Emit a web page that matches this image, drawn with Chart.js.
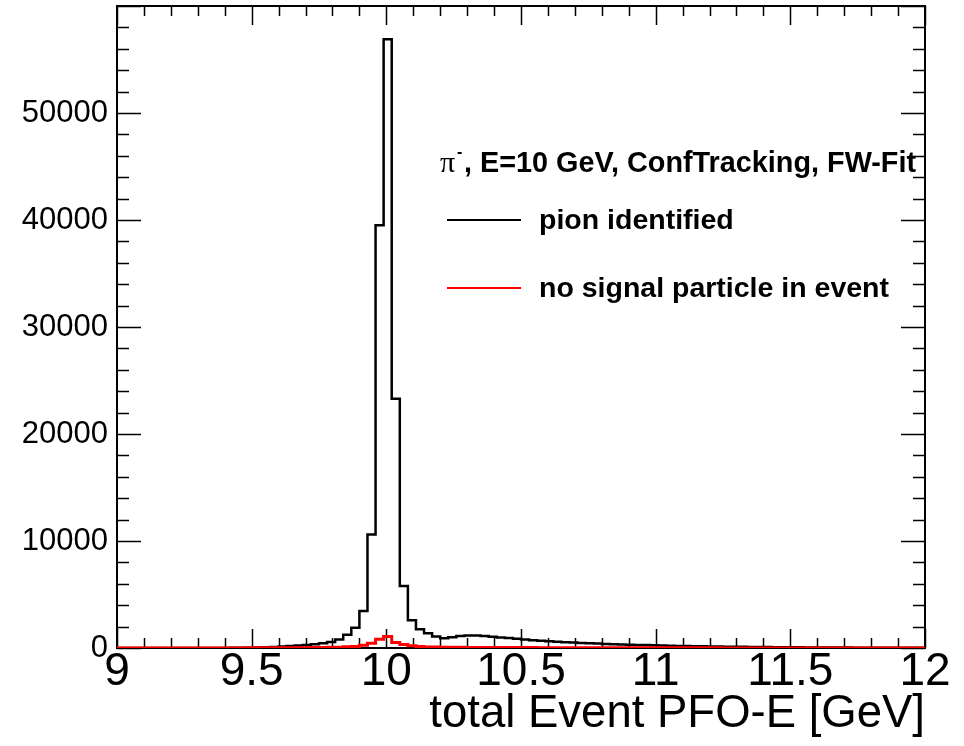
<!DOCTYPE html>
<html>
<head>
<meta charset="utf-8">
<script src="https://cdn.jsdelivr.net/npm/chart.js@4.4.1/dist/chart.umd.min.js"></script>
<style>
  html, body { margin: 0; padding: 0; background: #fff; }
  #wrap { width: 964px; height: 746px; }
</style>
</head>
<body>
<div id="wrap"><canvas id="pfoChart" width="964" height="746"></canvas></div>
<script>
// histogram binning: 100 bins from 9 to 12 GeV
const binLow = 9;
const binWidth = 0.03;
const xTicks = [9, 9.5, 10, 10.5, 11, 11.5, 12];
const yTicks = [0, 10000, 20000, 30000, 40000, 50000];

// pion identified (black)
const pionCounts = [
  0, 0, 0, 0, 2, 3, 3, 4, 5, 5,
  6, 7, 8, 10, 12, 15, 25, 40, 60, 90,
  130, 180, 230, 290, 360, 440, 560, 800, 1250, 1900,
  3450, 10600, 39500, 56900, 23300, 5800, 2600, 1750, 1370, 1070,
  910, 1000, 1120, 1170, 1160, 1110, 1050, 990, 930, 870,
  790, 730, 680, 630, 590, 545, 505, 475, 445, 415,
  385, 355, 330, 310, 290, 270, 250, 230, 212, 196,
  180, 166, 155, 145, 135, 125, 115, 106, 100, 92,
  85, 78, 72, 66, 60, 56, 52, 48, 44, 40,
  37, 34, 31, 29, 27, 25, 23, 21, 19, 17
];

// no signal particle in event (red)
const noSignalCounts = [
  2, 2, 2, 3, 3, 3, 4, 4, 5, 5,
  6, 6, 7, 8, 9, 10, 12, 14, 16, 19,
  22, 26, 30, 35, 42, 50, 60, 80, 110, 150,
  260, 440, 810, 1080, 520, 330, 200, 130, 100, 82,
  72, 66, 62, 58, 55, 52, 49, 46, 43, 40,
  38, 36, 34, 32, 30, 28, 27, 26, 25, 24,
  23, 22, 21, 20, 19, 18, 17, 16, 15, 15,
  14, 13, 13, 12, 12, 11, 11, 10, 10, 9,
  9, 9, 8, 8, 8, 7, 7, 7, 6, 6,
  6, 6, 5, 5, 5, 5, 4, 4, 4, 4
];

const FONT = "'Liberation Sans', Arial, Helvetica, sans-serif";

// step points at the lower bin edges, plus a closing point at the top edge
const toSteps = counts => {
  const pts = counts.map((c, i) => ({ x: binLow + i * binWidth, y: c }));
  pts.push({ x: binLow + counts.length * binWidth, y: counts[counts.length - 1] });
  return pts;
};

// ROOT style frame with inward ticks on all four sides
const frameTicks = {
  id: 'frameTicks',
  beforeDatasetsDraw(chart) {
    const { ctx, chartArea: a, scales: { x, y } } = chart;
    ctx.save();
    ctx.strokeStyle = '#000';
    ctx.lineWidth = 1.5;
    ctx.beginPath();
    for (let k = 0; k <= 30; k++) {
      const px = Math.round(x.getPixelForValue(binLow + k / 10)) + 0.5;
      const len = k % 5 === 0 ? 19 : 10;
      ctx.moveTo(px, a.bottom); ctx.lineTo(px, a.bottom - len);
      ctx.moveTo(px, a.top); ctx.lineTo(px, a.top + len);
    }
    for (let k = 0; k <= 30; k++) {
      const py = Math.round(y.getPixelForValue(k * 2000)) + 0.5;
      const len = k % 5 === 0 ? 24 : 12;
      ctx.moveTo(a.left, py); ctx.lineTo(a.left + len, py);
      ctx.moveTo(a.right, py); ctx.lineTo(a.right - len, py);
    }
    ctx.stroke();
    ctx.lineWidth = 2;
    ctx.strokeRect(a.left, a.top, a.right - a.left, a.bottom - a.top);
    ctx.restore();
  },
  afterDraw(chart) {
    const { ctx } = chart;
    ctx.save();
    ctx.fillStyle = '#000';
    ctx.textBaseline = 'alphabetic';
    // header line
    ctx.font = "30px 'Liberation Serif', 'DejaVu Serif', serif";
    ctx.fillText('\u03c0', 440, 172);
    ctx.font = "bold 16px " + FONT;
    ctx.fillText('-', 457, 157);
    ctx.font = "bold 28.8px " + FONT;
    ctx.fillText(', E=10 GeV, ConfTracking, FW-Fit', 464, 172);
    // entries
    const entries = chart.data.datasets.slice().sort((p, q) => q.order - p.order);
    const rows = [220, 288];
    entries.forEach((ds, i) => {
      ctx.strokeStyle = ds.borderColor;
      ctx.lineWidth = 2;
      ctx.beginPath();
      ctx.moveTo(447, rows[i]); ctx.lineTo(521, rows[i]);
      ctx.stroke();
      ctx.font = "bold 28.5px " + FONT;
      ctx.textBaseline = 'middle';
      ctx.fillText(ds.label, 539, rows[i] + 1);
    });
    ctx.restore();
  }
};

const noPad = s => { s.paddingTop = 0; s.paddingBottom = 0; s.paddingLeft = 0; s.paddingRight = 0; };

new Chart(document.getElementById('pfoChart'), {
  type: 'line',
  data: {
    datasets: [
      {
        label: 'pion identified',
        data: toSteps(pionCounts),
        borderColor: '#000000',
        borderWidth: 2.5,
        stepped: 'before',
        pointRadius: 0,
        fill: false,
        order: 1
      },
      {
        label: 'no signal particle in event',
        data: toSteps(noSignalCounts),
        borderColor: '#ff0000',
        borderWidth: 3,
        stepped: 'before',
        pointRadius: 0,
        fill: false,
        order: 0
      }
    ]
  },
  options: {
    responsive: false,
    animation: false,
    layout: { padding: { top: 6, right: 39, left: 0, bottom: 0 } },
    plugins: {
      legend: { display: false },
      tooltip: { enabled: false }
    },
    scales: {
      x: {
        type: 'linear',
        min: 9,
        max: 12,
        afterFit: s => { s.height = 98; noPad(s); },
        afterBuildTicks: s => { s.ticks = xTicks.map(v => ({ value: v })); },
        ticks: {
          autoSkip: false,
          maxRotation: 0,
          padding: -3,
          color: '#000',
          font: { family: FONT, size: 46 },
          callback: v => String(v)
        },
        grid: { display: false, drawTicks: false },
        border: { display: false },
        title: {
          display: true,
          text: 'total Event PFO-E [GeV]',
          align: 'end',
          color: '#000',
          font: { family: FONT, size: 45.5 },
          padding: { top: 0, bottom: 4 }
        }
      },
      y: {
        min: 0,
        max: 60000,
        afterFit: s => { s.width = 117; noPad(s); },
        afterBuildTicks: s => { s.ticks = yTicks.map(v => ({ value: v })); },
        ticks: {
          padding: 9,
          color: '#000',
          font: { family: FONT, size: 31 },
          callback: v => String(v)
        },
        grid: { display: false, drawTicks: false },
        border: { display: false }
      }
    }
  },
  plugins: [frameTicks]
});
</script>
</body>
</html>
